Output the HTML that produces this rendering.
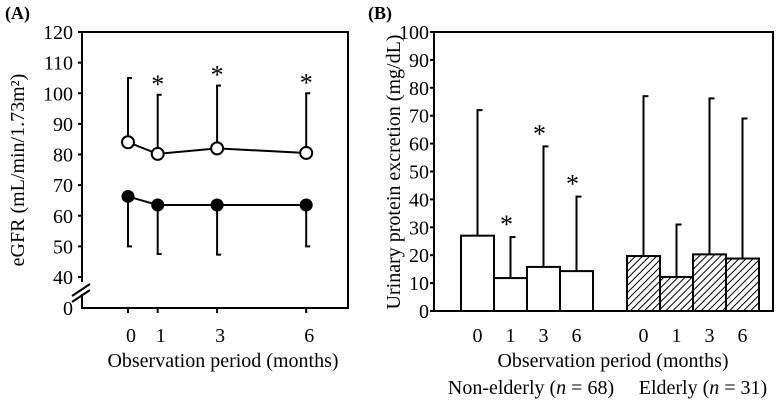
<!DOCTYPE html>
<html><head><meta charset="utf-8"><style>
html,body{margin:0;padding:0;background:#fff;}
svg{display:block;font-family:"Liberation Serif",serif;}
</style></head><body>
<svg id="c" width="779" height="404" viewBox="0 0 779 404">
<defs><pattern id="hatch" width="5" height="5" patternUnits="userSpaceOnUse" patternTransform="rotate(45)"><rect width="5" height="5" fill="#fff"/><line x1="0" y1="0" x2="0" y2="5" stroke="#000" stroke-width="2"/></pattern></defs>
</svg>
<script>
// Panel A data
const monthsA = [0, 1, 3, 6];
const openMean = [84, 80.2, 82, 80.5];
const openSD = [105, 99.5, 102.5, 100];
const filledMean = [66.3, 63.5, 63.5, 63.5];
const filledLow = [50, 47.5, 47.3, 50];
const starsA = [false, true, true, true];
const yTicksA = [40, 50, 60, 70, 80, 90, 100, 110, 120];
// Panel B data
const monthsB = ['0', '1', '3', '6'];
const nonElderly = [27, 11.8, 15.8, 14.3];
const nonElderlyErr = [72, 26.5, 59, 41];
const elderly = [19.7, 12.2, 20.3, 18.8];
const elderlyErr = [77, 31, 76.2, 69];
const starsB = [false, true, true, true];
const yTicksB = [0, 10, 20, 30, 40, 50, 60, 70, 80, 90, 100];

const svg = document.getElementById('c');
const NS = 'http://www.w3.org/2000/svg';
const FS = 20;
function mk(tag, attrs, parent, text) {
  const e = document.createElementNS(NS, tag);
  for (const k in attrs) e.setAttribute(k, attrs[k]);
  if (text !== undefined) e.textContent = text;
  (parent || svg).appendChild(e);
  return e;
}
function txt(x, y, s, size, anchor, name, extra) {
  const t = mk('text', Object.assign({x: x, y: y, 'font-size': size, 'text-anchor': anchor || 'middle', fill: '#000'}, extra || {}), svg, s);
  
  
  return t;
}
function ln(x1, y1, x2, y2, w, name) {
  const l = mk('line', {x1: x1, y1: y1, x2: x2, y2: y2, stroke: '#000', 'stroke-width': w || 2});
  
  
  return l;
}

// ===== Panel A =====
const AL = 82, AR = 348, AT = 32, AB = 308;
const yA = v => v <= 0 ? AB : AT + (120 - v) * (277 - 32) / 80;
const xA = m => 128 + m * 29.7;
txt(5, 19, '(A)', 18, 'start', 'panel-a-label', {'font-weight': 'bold'});
const boxA = mk('rect', {x: AL, y: AT, width: AR - AL, height: AB - AT, fill: 'none', stroke: '#000', 'stroke-width': 2});


yTicksA.forEach(v => {
  ln(AL - 4, yA(v), AL, yA(v), 2, 'y-tick-a');
  txt(73, yA(v) + 7, String(v), FS, 'end', 'y-tick-label-a');
});
txt(73, AB + 7, '0', FS, 'end', 'y-tick-label-a-zero');
mk('rect', {x: 78, y: 282, width: 8, height: 12, fill: '#fff'});
ln(72, 296, 90, 284, 2, 'axis-break');
ln(72, 302, 90, 290, 2, 'axis-break');
txt(24, 170, 'eGFR (mL/min/1.73m²)', FS, 'middle', 'y-axis-title-a', {transform: 'rotate(-90 24 170)'});
monthsA.forEach((m, i) => {
  ln(xA(m), AB, xA(m), AB + 5, 2, 'x-tick-a');
  txt(xA(m) + 3, 342, String(m), FS, 'middle', 'x-tick-label-a');
});
txt(223, 367, 'Observation period (months)', FS, 'middle', 'x-axis-title-a');
monthsA.forEach((m, i) => {
  const x = xA(m);
  ln(x, yA(openMean[i]), x, yA(openSD[i]), 2, 'error-bar-open');
  ln(x - 1, yA(openSD[i]), x + 4, yA(openSD[i]), 2, 'error-cap-open');
  ln(x, yA(filledMean[i]), x, yA(filledLow[i]), 2, 'error-bar-filled');
  ln(x - 1, yA(filledLow[i]), x + 4, yA(filledLow[i]), 2, 'error-cap-filled');
  if (starsA[i]) txt(x, yA(openSD[i]) - 2, '*', 26, 'middle', 'significance-star-a');
});
const pts = (arr) => monthsA.map((m, i) => xA(m) + ',' + yA(arr[i])).join(' ');
const lo = mk('polyline', {points: pts(openMean), fill: 'none', stroke: '#000', 'stroke-width': 2});


const lf = mk('polyline', {points: pts(filledMean), fill: 'none', stroke: '#000', 'stroke-width': 2});


monthsA.forEach((m, i) => {
  const c1 = mk('circle', {cx: xA(m), cy: yA(openMean[i]), r: 6, fill: '#fff', stroke: '#000', 'stroke-width': 2});
  
  
  const c2 = mk('circle', {cx: xA(m), cy: yA(filledMean[i]), r: 6.5, fill: '#000'});
  
  
});

// ===== Panel B =====
const BL = 434, BR = 773, BT = 32, BB = 311;
const yB = v => BB - v * (BB - BT) / 100;
const bw = 33;
const g1 = 461, g2 = 627;
txt(368, 19, '(B)', 18, 'start', 'panel-b-label', {'font-weight': 'bold'});
yTicksB.forEach(v => {
  ln(BL - 4, yB(v), BL, yB(v), 2, 'y-tick-b');
  txt(429, yB(v) + 7, String(v), FS, 'end', 'y-tick-label-b');
});
txt(400, 172, 'Urinary protein excretion (mg/dL)', FS, 'middle', 'y-axis-title-b', {transform: 'rotate(-90 400 172)'});
function bars(start, vals, errs, stars, fill, group) {
  vals.forEach((v, i) => {
    const x = start + i * bw;
    const cx = x + bw / 2;
    ln(cx, yB(v), cx, yB(errs[i]), 2, 'error-bar-' + group);
    ln(cx - 1, yB(errs[i]), cx + 5, yB(errs[i]), 2, 'error-cap-' + group);
    const r = mk('rect', {x: x, y: yB(v), width: bw, height: BB - yB(v), fill: fill, stroke: '#000', 'stroke-width': 2});
    
    
    if (stars[i]) txt(cx - 4, yB(errs[i]) - 4, '*', 26, 'middle', 'significance-star-b');
    txt(cx, 342, monthsB[i], FS, 'middle', 'x-tick-label-b');
  });
}
bars(g1, nonElderly, nonElderlyErr, starsB, '#fff', 'non-elderly');
bars(g2, elderly, elderlyErr, [false, false, false, false], 'url(#hatch)', 'elderly');
const boxB = mk('rect', {x: BL, y: BT, width: BR - BL, height: BB - BT, fill: 'none', stroke: '#000', 'stroke-width': 2});


txt(613, 367, 'Observation period (months)', FS, 'middle', 'x-axis-title-b');
const g1t = txt(531, 394, '', FS, 'middle', 'group-label-non-elderly');
g1t.innerHTML = 'Non-elderly (<tspan font-style="italic">n</tspan> = 68)';
const g2t = txt(703, 394, '', FS, 'middle', 'group-label-elderly');
g2t.innerHTML = 'Elderly (<tspan font-style="italic">n</tspan> = 31)';
</script>
</body></html>
